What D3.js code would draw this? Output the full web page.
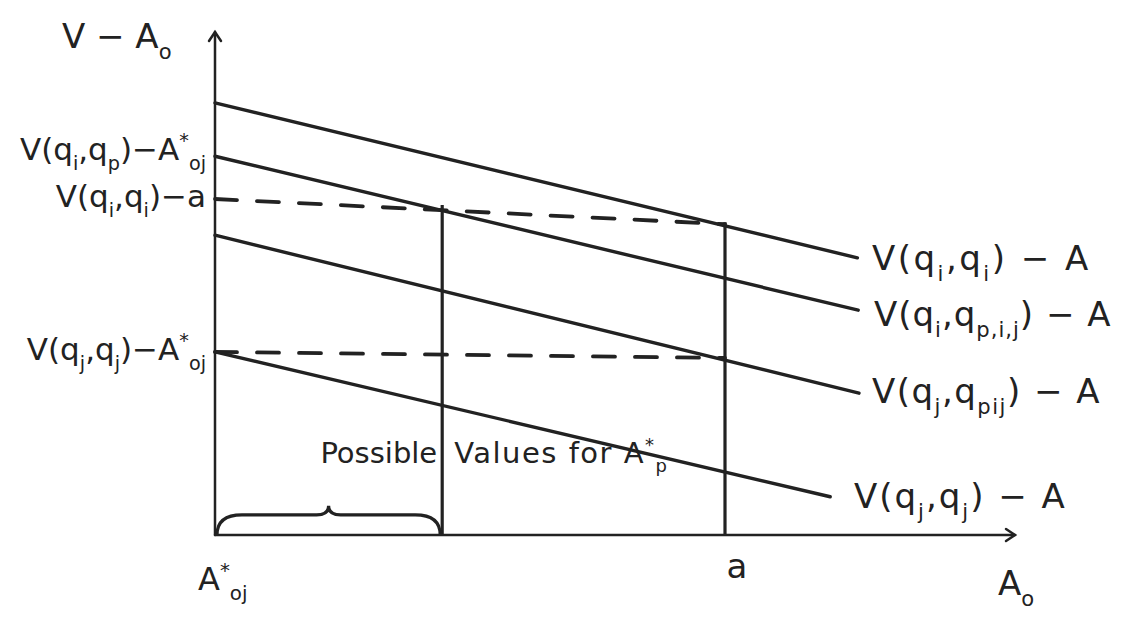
<!DOCTYPE html>
<html>
<head>
<meta charset="utf-8">
<script src="https://cdn.jsdelivr.net/npm/d3@7"></script>
<style>
  body { margin: 0; background: #fff; }
  text { font-family: "DejaVu Sans", sans-serif; fill: #222; }
</style>
</head>
<body>
<div id="chart"></div>
<script>
// value curves V - A (A0 runs 0..100, value 0..100)
var lineStartX = [0, 0, 0, 0];
var lineStartY = [85.9, 75.3, 59.6, 36.4];
var lineEndX = [80.3, 80.4, 80.5, 76.9];
var lineEndY = [55.1, 44.7, 28.2, 7.6];

// right side labels for each curve, as [text, kind] parts
var lineLabels = [
  [["V(q", ""], ["i", "sub"], [",q", ""], ["i", "sub"], [") − A", ""]],
  [["V(q", ""], ["i", "sub"], [",q", ""], ["p,i,j", "sub"], [") − A", ""]],
  [["V(q", ""], ["j", "sub"], [",q", ""], ["pij", "sub"], [") − A", ""]],
  [["V(q", ""], ["j", "sub"], [",q", ""], ["j", "sub"], [") − A", ""]]
];

// left side value labels
var leftLabels = [
  [["V(q", ""], ["i", "sub"], [",q", ""], ["p", "sub"], [")−A", ""], ["*", "sup"], ["oj", "sub"]],
  [["V(q", ""], ["i", "sub"], [",q", ""], ["i", "sub"], [")−a", ""]],
  [["V(q", ""], ["j", "sub"], [",q", ""], ["j", "sub"], [")−A", ""], ["*", "sup"], ["oj", "sub"]]
];

// special points on the A0 axis
var xMarks = [28.4, 63.75];
var xMarkTops = [65.6, 62.2];

// dashed guide lines
var dashX0 = [0, 0];
var dashY0 = [66.8, 36.4];
var dashX1 = [63.75, 63.75];
var dashY1 = [61.8, 35.2];

var width = 1121;
var height = 621;

var x = d3.scaleLinear().domain([0, 100]).range([215, 1015]);
var y = d3.scaleLinear().domain([0, 100]).range([535, 32]);

var svg = d3.select('#chart')
  .append('svg')
  .attr('width', width)
  .attr('height', height);

var ink = '#222';

//writes a label made of normal, subscript and superscript parts
function rich(sel, parts, size) {
  var shift = 0;
  parts.forEach(function(p) {
    var k = p[1];
    var target = k === 'sub' ? size * 0.32 : (k === 'sup' ? -size * 0.42 : 0);
    sel.append('tspan')
      .attr('dy', target - shift)
      .attr('font-size', k ? size * 0.62 : size)
      .text(p[0]);
    shift = target;
  });
}

//axes with open arrow heads
var axes = svg.append('g')
  .attr('stroke', ink)
  .attr('stroke-width', 2.5)
  .attr('fill', 'none')
  .attr('stroke-linecap', 'round');

axes.append('line')
  .attr('x1', x(0)).attr('y1', y(0))
  .attr('x2', x(0)).attr('y2', y(100));
axes.append('path')
  .attr('d', 'M' + (x(0) - 6) + ',' + (y(100) + 9) + 'L' + x(0) + ',' + y(100) + 'L' + (x(0) + 6) + ',' + (y(100) + 9));

axes.append('line')
  .attr('x1', x(0)).attr('y1', y(0))
  .attr('x2', x(100)).attr('y2', y(0));
axes.append('path')
  .attr('d', 'M' + (x(100) - 9) + ',' + (y(0) - 6) + 'L' + x(100) + ',' + y(0) + 'L' + (x(100) - 9) + ',' + (y(0) + 6));

//the four value curves
var line = d3.line()
  .x(function(d) { return x(d[0]); })
  .y(function(d) { return y(d[1]); });

svg.selectAll('path.curve')
  .data(lineStartY.map(function(v, i) {
    return [[lineStartX[i], v], [lineEndX[i], lineEndY[i]]];
  }))
  .enter()
  .append('path')
  .attr('class', 'curve')
  .attr('d', line)
  .attr('fill', 'none')
  .attr('stroke', ink)
  .attr('stroke-width', 3.4)
  .attr('stroke-linecap', 'round');

//dashed guides
svg.selectAll('line.dash')
  .data(dashX0)
  .enter()
  .append('line')
  .attr('class', 'dash')
  .attr('x1', function(d) { return x(d); })
  .attr('y1', function(d, i) { return y(dashY0[i]); })
  .attr('x2', function(d, i) { return x(dashX1[i]); })
  .attr('y2', function(d, i) { return y(dashY1[i]); })
  .attr('stroke', ink)
  .attr('stroke-width', 3.8)
  .attr('stroke-dasharray', '22,20')
  .attr('stroke-linecap', 'round');

//verticals
svg.selectAll('line.mark')
  .data(xMarks)
  .enter()
  .append('line')
  .attr('class', 'mark')
  .attr('x1', function(d) { return x(d); })
  .attr('x2', function(d) { return x(d); })
  .attr('y1', y(0))
  .attr('y2', function(d, i) { return y(xMarkTops[i]); })
  .attr('stroke', ink)
  .attr('stroke-width', 3.2);

//curly brace under the possible values
var bx0 = x(0) + 2, bx1 = x(xMarks[0]) - 2, bm = (bx0 + bx1) / 2;
var by = y(0), bt = y(4), tip = y(5.8);
svg.append('path')
  .attr('d', 'M' + bx0 + ',' + by +
    'Q' + bx0 + ',' + bt + ' ' + (bx0 + 25) + ',' + bt +
    'L' + (bm - 12) + ',' + bt +
    'Q' + bm + ',' + bt + ' ' + bm + ',' + tip +
    'Q' + bm + ',' + bt + ' ' + (bm + 12) + ',' + bt +
    'L' + (bx1 - 25) + ',' + bt +
    'Q' + bx1 + ',' + bt + ' ' + bx1 + ',' + by)
  .attr('fill', 'none')
  .attr('stroke', ink)
  .attr('stroke-width', 3.2);

//right labels
var rightPos = [[872, 270], [874, 326], [872, 403], [854, 508]];
var rightSpacing = [2.5, 1, 1.5, 2];
lineLabels.forEach(function(parts, i) {
  var t = svg.append('text')
    .attr('x', rightPos[i][0])
    .attr('y', rightPos[i][1])
    .attr('letter-spacing', rightSpacing[i]);
  rich(t, parts, 34);
});

//left labels
var leftPos = [160, 207, 360];
leftLabels.forEach(function(parts, i) {
  var t = svg.append('text')
    .attr('x', 206)
    .attr('y', leftPos[i])
    .attr('text-anchor', 'end');
  rich(t, parts, 31);
});

//axis titles
var yTitle = svg.append('text').attr('x', 62).attr('y', 48);
rich(yTitle, [["V − A", ""], ["o", "sub"]], 34);

var xTitle = svg.append('text').attr('x', 998).attr('y', 595);
rich(xTitle, [["A", ""], ["o", "sub"]], 34);

var xZero = svg.append('text').attr('x', 198).attr('y', 590);
rich(xZero, [["A", ""], ["*", "sup"], ["oj", "sub"]], 32);

svg.append('text')
  .attr('x', x(xMarks[1]) + 12)
  .attr('y', 578)
  .attr('text-anchor', 'middle')
  .attr('font-size', 34)
  .text('a');

//possible values caption, split by the first vertical
svg.append('text')
  .attr('x', x(xMarks[0]) - 5)
  .attr('y', 463)
  .attr('text-anchor', 'end')
  .attr('font-size', 29)
  .text('Possible');

var cap = svg.append('text')
  .attr('x', x(xMarks[0]) + 12)
  .attr('y', 463)
  .attr('letter-spacing', 1.5);
rich(cap, [["Values for A", ""], ["*", "sup"], ["p", "sub"]], 29);
</script>
</body>
</html>
